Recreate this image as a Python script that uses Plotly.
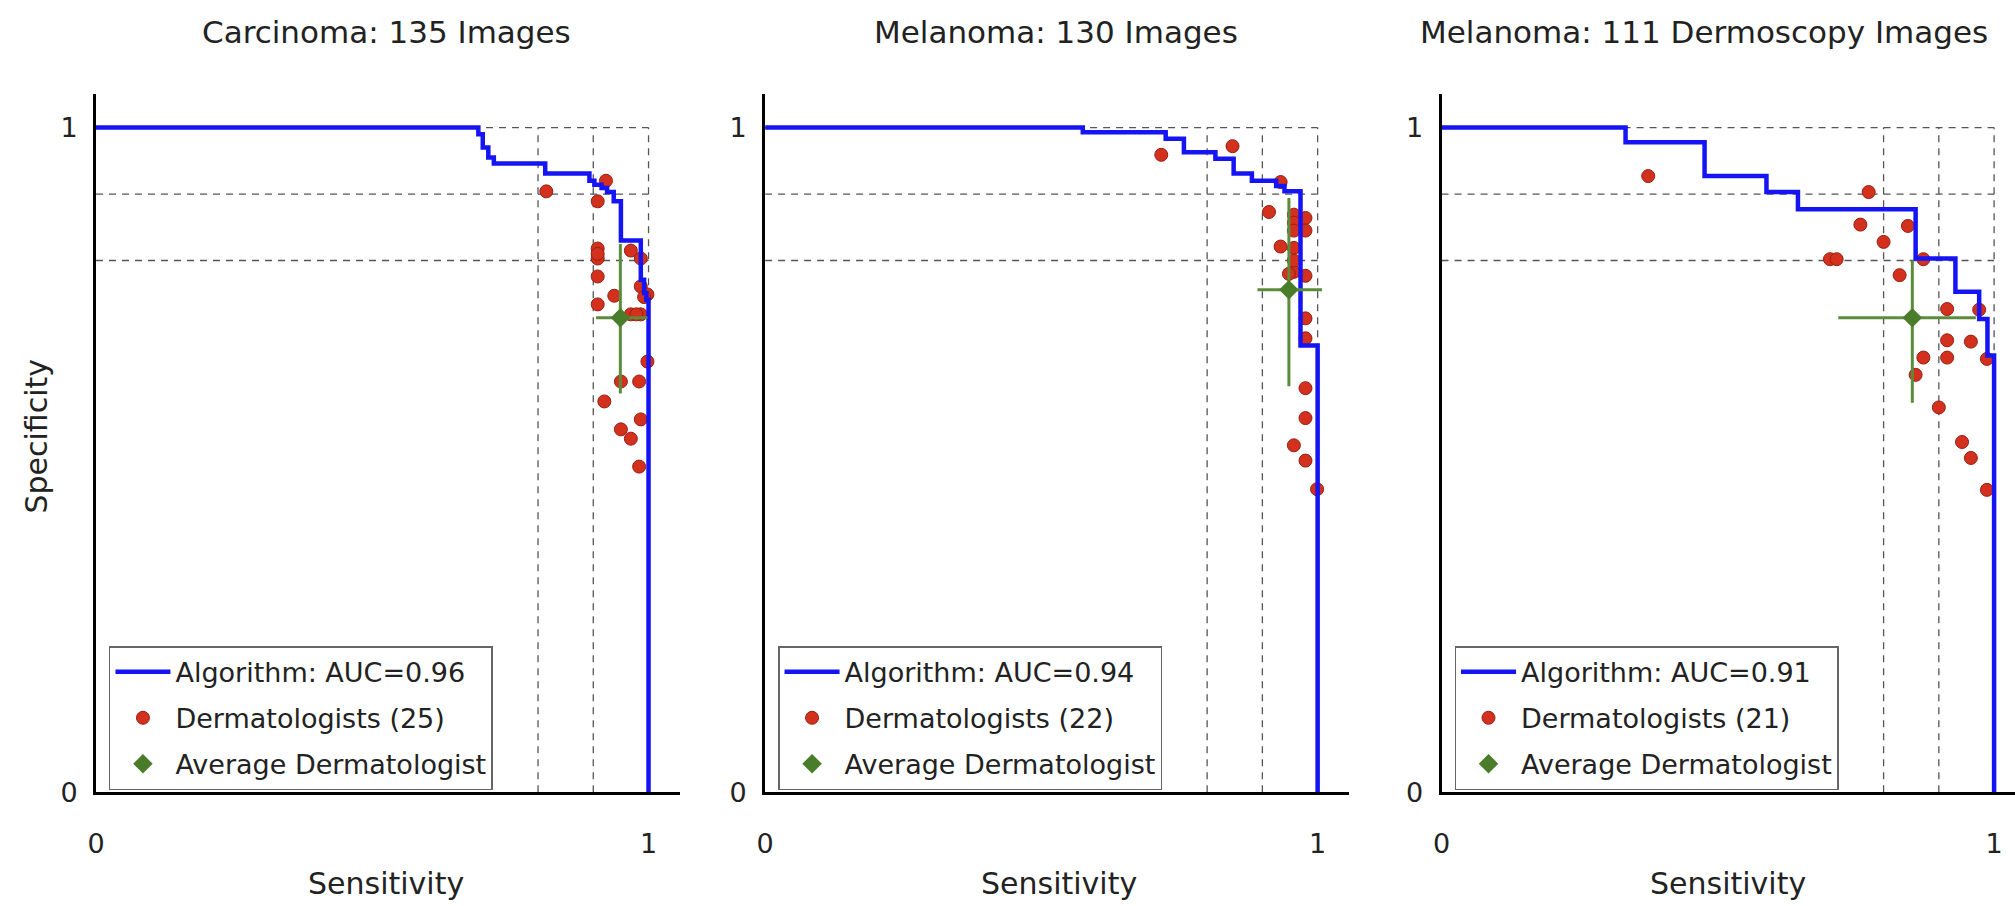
import plotly.graph_objects as go

W, H = 2015, 906
FONT = "DejaVu Sans"

# ---------------- data ----------------
titles = ["Carcinoma: 135 Images", "Melanoma: 130 Images", "Melanoma: 111 Dermoscopy Images"]
auc_values = [0.96, 0.94, 0.91]
derm_counts = [25, 22, 21]

# ROC step curves (sensitivity where the step happens, specificity after the step)
roc1_sens = [0.0, 0.692, 0.700, 0.710, 0.720, 0.813, 0.893, 0.902, 0.915, 0.925, 0.937, 0.950, 0.986, 0.992, 0.996, 1.0]
roc1_spec = [1.0, 0.990, 0.970, 0.955, 0.946, 0.931, 0.920, 0.914, 0.909, 0.903, 0.889, 0.830, 0.771, 0.751, 0.741, 0.0]

roc2_sens = [0.0, 0.575, 0.725, 0.758, 0.815, 0.848, 0.881, 0.925, 0.940, 0.969, 1.0]
roc2_spec = [1.0, 0.993, 0.983, 0.963, 0.953, 0.931, 0.920, 0.912, 0.904, 0.672, 0.0]

roc3_sens = [0.0, 0.333, 0.476, 0.588, 0.645, 0.858, 0.930, 0.973, 0.988, 1.0]
roc3_spec = [1.0, 0.978, 0.927, 0.903, 0.877, 0.803, 0.753, 0.712, 0.657, 0.0]

# individual dermatologists
derm1_sens = [0.815, 0.923, 0.908, 0.908, 0.908, 0.908, 0.908, 0.938, 0.968, 0.986, 0.986, 0.998, 0.968,
              0.986, 0.998, 0.950, 0.983, 0.920, 0.986, 0.950, 0.968, 0.983, 0.908, 0.978, 0.992]
derm1_spec = [0.904, 0.920, 0.889, 0.818, 0.803, 0.776, 0.734, 0.747, 0.815, 0.803, 0.761, 0.749, 0.719,
              0.719, 0.648, 0.618, 0.618, 0.588, 0.561, 0.546, 0.532, 0.490, 0.810, 0.719, 0.745]

derm2_sens = [0.717, 0.846, 0.933, 0.912, 0.957, 0.978, 0.978, 0.957, 0.933, 0.957, 0.957, 0.978, 0.978,
              0.978, 0.978, 0.978, 0.957, 0.978, 0.999, 0.957, 0.948, 0.957]
derm2_spec = [0.959, 0.972, 0.918, 0.873, 0.869, 0.864, 0.845, 0.857, 0.821, 0.819, 0.783, 0.777, 0.713,
              0.683, 0.608, 0.563, 0.522, 0.499, 0.456, 0.845, 0.780, 0.800]

derm3_sens = [0.374, 0.773, 0.758, 0.844, 0.800, 0.703, 0.715, 0.829, 0.872, 0.915, 0.973, 0.915, 0.958,
              0.872, 0.915, 0.987, 0.858, 0.900, 0.942, 0.958, 0.987]
derm3_spec = [0.927, 0.903, 0.854, 0.852, 0.828, 0.802, 0.802, 0.778, 0.802, 0.727, 0.726, 0.680, 0.678,
              0.654, 0.654, 0.652, 0.628, 0.579, 0.527, 0.503, 0.455]

# average dermatologist with spread
avg_sens = [0.949, 0.948, 0.852]
avg_spec = [0.714, 0.756, 0.714]
avg_sens_lo = [0.905, 0.891, 0.718]
avg_sens_hi = [0.998, 1.008, 0.967]
avg_spec_lo = [0.600, 0.611, 0.586]
avg_spec_hi = [0.825, 0.894, 0.800]

guide_levels = [0.8, 0.9, 1.0]

roc_sens = [roc1_sens, roc2_sens, roc3_sens]
roc_spec = [roc1_spec, roc2_spec, roc3_spec]
derm_sens = [derm1_sens, derm2_sens, derm3_sens]
derm_spec = [derm1_spec, derm2_spec, derm3_spec]

# ---------------- layout geometry (pixels) ----------------
panel_left_px = [87.4, 759.5, 1439.0]
unit_x_px = 555.0
xmax_range = 1.057
y0_px = 805.7
unit_y_px = 676.0
ymax_range = 1.05

BLUE = "#1414f5"
RED = "#d3311d"
RED_EDGE = "#962014"
GREEN = "#4a7d2a"
GREEN_BAR = "#5b8c3c"
DASH = "#555555"
TXT = "#222222"

fig = go.Figure()

layout_axes = {}
shapes = []
annotations = []

for i in range(3):
    n = "" if i == 0 else str(i + 1)
    xa, ya = "x" + n, "y" + n
    left = panel_left_px[i]
    right = min(left + xmax_range * unit_x_px, W)
    xr = (right - left) / unit_x_px
    top_px = y0_px - ymax_range * unit_y_px

    layout_axes["xaxis" + n] = dict(
        domain=[left / W, right / W], range=[0, xr], anchor=ya,
        showline=True, linecolor="black", linewidth=3, mirror=False,
        showgrid=False, zeroline=False, ticks="",
        tickvals=[0, 1], ticktext=["0", "1"],
        tickfont=dict(family=FONT, size=27, color=TXT),
        ticklabelstandoff=25,
    )
    layout_axes["yaxis" + n] = dict(
        domain=[(H - y0_px) / H, (H - top_px) / H], range=[0, ymax_range], anchor=xa,
        showline=True, linecolor="black", linewidth=3, mirror=False,
        showgrid=False, zeroline=False, ticks="",
        tickvals=[0, 1], ticktext=["0", "1"],
        tickfont=dict(family=FONT, size=27, color=TXT),
        ticklabelstandoff=10,
    )

    # dashed guide lines
    lo = 0.0
    hi = max(guide_levels)
    for lv in guide_levels:
        shapes.append(dict(type="line", xref=xa, yref=ya, x0=lo, x1=hi, y0=lv, y1=lv,
                           line=dict(color=DASH, width=1.3, dash="7px,6px"), layer="below"))
        shapes.append(dict(type="line", xref=xa, yref=ya, x0=lv, x1=lv, y0=lo, y1=hi,
                           line=dict(color=DASH, width=1.3, dash="7px,6px"), layer="below"))

    leg = "legend" if i == 0 else "legend" + str(i + 1)

    fig.add_trace(go.Scatter(
        x=derm_sens[i], y=derm_spec[i], mode="markers", xaxis=xa, yaxis=ya,
        name=f"Dermatologists ({derm_counts[i]})", legend=leg, legendgroup=f"d{i}", legendrank=2,
        marker=dict(color=RED, size=13, line=dict(color=RED_EDGE, width=1)),
    ))
    fig.add_trace(go.Scatter(
        x=roc_sens[i], y=roc_spec[i], mode="lines", line_shape="hv", xaxis=xa, yaxis=ya,
        name=f"Algorithm: AUC={auc_values[i]:.2f}", legend=leg, legendgroup=f"a{i}", legendrank=1,
        line=dict(color=BLUE, width=4.5),
    ))
    fig.add_trace(go.Scatter(
        x=[avg_sens[i]], y=[avg_spec[i]], mode="markers", xaxis=xa, yaxis=ya,
        name="Average Dermatologist", legend=leg, legendgroup=f"g{i}", legendrank=3,
        marker=dict(color=GREEN, size=15, symbol="diamond"),
        error_x=dict(type="data", symmetric=False,
                     array=[avg_sens_hi[i] - avg_sens[i]], arrayminus=[avg_sens[i] - avg_sens_lo[i]],
                     color=GREEN_BAR, thickness=3, width=0),
        error_y=dict(type="data", symmetric=False,
                     array=[avg_spec_hi[i] - avg_spec[i]], arrayminus=[avg_spec[i] - avg_spec_lo[i]],
                     color=GREEN_BAR, thickness=3, width=0),
    ))

    legend_left_px = left + 13
    layout_axes[leg] = dict(
        x=legend_left_px / W, y=1 - 657 / H, xanchor="left", yanchor="top",
        xref="paper", yref="paper",
        bgcolor="white", bordercolor="#666666", borderwidth=1.5,
        font=dict(family=FONT, size=27, color=TXT),
        itemwidth=55, traceorder="grouped", tracegroupgap=8,
    )

# panel titles and axis labels
title_centers_px = [379, 1052, 1703]
xlabel_centers_px = [379, 1055, 1727]
for i in range(3):
    annotations.append(dict(text=titles[i], x=title_centers_px[i] / W, y=1 - 33 / H,
                            xref="paper", yref="paper", showarrow=False,
                            xanchor="center", yanchor="middle",
                            font=dict(family=FONT, size=31, color=TXT)))
    annotations.append(dict(text="Sensitivity", x=xlabel_centers_px[i] / W,
                            y=1 - 898 / H, xref="paper", yref="paper", showarrow=False,
                            xanchor="center", yanchor="middle",
                            font=dict(family=FONT, size=30, color=TXT)))

annotations.append(dict(text="Specificity", x=28 / W, y=1 - 443 / H, xref="paper", yref="paper",
                        showarrow=False, textangle=-90, xanchor="center", yanchor="middle",
                        font=dict(family=FONT, size=30, color=TXT)))

fig.update_layout(
    width=W, height=H, margin=dict(l=0, r=0, t=0, b=0),
    paper_bgcolor="white", plot_bgcolor="white",
    shapes=shapes, annotations=annotations,
    **layout_axes,
)

fig.write_html("out.html", config={"displayModeBar": False},
               post_script="document.body.style.margin='0px';document.body.style.overflow='hidden';")
